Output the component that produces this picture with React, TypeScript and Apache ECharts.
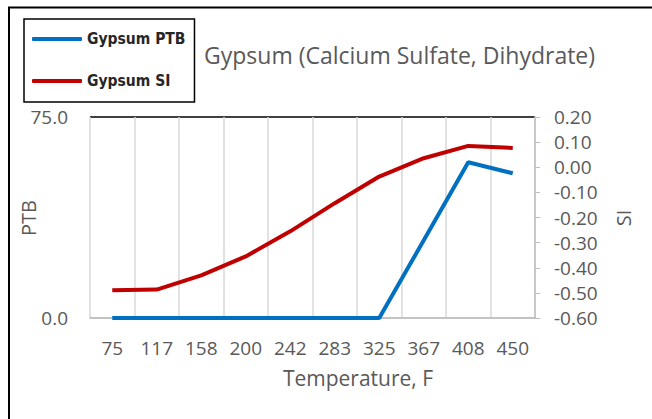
import React, { useEffect, useRef } from "react";
import * as echarts from "echarts";

const categories = ["75", "117", "158", "200", "242", "283", "325", "367", "408", "450"];
const ptbValues = [0, 0, 0, 0, 0, 0, 0, 29, 58.1, 54.0];
const siValues = [-0.49, -0.487, -0.43, -0.355, -0.255, -0.143, -0.037, 0.036, 0.085, 0.077];
const ptbTicks = { min: 0, max: 75, interval: 75 };
const siTicks = { min: -0.6, max: 0.2, interval: 0.1 };

const FONT = "'Open Sans', 'Noto Sans', sans-serif";
const GREY = "#595959";

export default function App() {
  const ref = useRef<HTMLDivElement>(null);
  useEffect(() => {
    if (!ref.current) return;
    const chart = echarts.init(ref.current, undefined, { renderer: "svg" });
    chart.setOption({
      animation: false,
      backgroundColor: "#ffffff",
      textStyle: { fontFamily: FONT },
      title: {
        text: "Gypsum (Calcium Sulfate, Dihydrate)",
        left: 199,
        top: 38,
        textStyle: { fontFamily: FONT, fontSize: 23, fontWeight: "normal", color: GREY },
      },
      legend: {
        orient: "vertical",
        left: 24,
        top: 19,
        padding: [10, 9, 11, 8],
        itemGap: 22,
        itemWidth: 50,
        itemHeight: 4,
        icon: "roundRect",
        borderColor: "#000000",
        borderWidth: 1.5,
        textStyle: {
          fontFamily: "'DejaVu Sans Condensed', 'Liberation Sans Narrow', sans-serif",
          fontWeight: "bold",
          fontSize: 15.5,
          lineHeight: 20,
          color: "#262626",
        },
      },
      grid: {
        left: 90,
        right: 117,
        top: 117,
        bottom: 101,
        containLabel: false,
        outerBoundsMode: "none",
      },
      xAxis: {
        type: "category",
        data: categories,
        boundaryGap: true,
        axisLine: { show: true, lineStyle: { color: "#bfbfbf", width: 1.5 } },
        axisTick: { show: false },
        axisLabel: { margin: 20, fontSize: 19, color: GREY, fontFamily: FONT, interval: 0 },
        splitLine: { show: true, interval: 0, lineStyle: { color: "#d9d9d9", width: 1.5 } },
      },
      yAxis: [
        {
          type: "value",
          position: "left",
          min: ptbTicks.min,
          max: ptbTicks.max,
          interval: ptbTicks.interval,
          axisLine: { show: false },
          axisTick: { show: false },
          axisLabel: {
            margin: 22,
            fontSize: 19,
            color: GREY,
            fontFamily: FONT,
            formatter: (v: number) => v.toFixed(1),
          },
          splitLine: { show: true, lineStyle: { color: ["#bfbfbf", "#000000"], width: 1.5 } },
        },
        {
          type: "value",
          position: "right",
          min: siTicks.min,
          max: siTicks.max,
          interval: siTicks.interval,
          axisLine: { show: true, lineStyle: { color: "#bfbfbf", width: 1.5 } },
          axisTick: { show: true, inside: false, length: 5, lineStyle: { color: "#bfbfbf" } },
          axisLabel: {
            margin: 19,
            fontSize: 19,
            color: GREY,
            fontFamily: FONT,
            formatter: (v: number) => v.toFixed(2),
          },
          splitLine: { show: false },
        },
      ],
      series: [
        {
          name: "Gypsum PTB",
          type: "line",
          yAxisIndex: 0,
          data: ptbValues,
          symbol: "none",
          lineStyle: { color: "#0070c0", width: 4 },
          itemStyle: { color: "#0070c0" },
        },
        {
          name: "Gypsum SI",
          type: "line",
          yAxisIndex: 1,
          data: siValues,
          symbol: "none",
          lineStyle: { color: "#c00000", width: 4 },
          itemStyle: { color: "#c00000" },
        },
      ],
      graphic: [
        {
          type: "line",
          shape: { x1: 8, y1: 7.5, x2: 652, y2: 7.5 },
          style: { stroke: "#000000", lineWidth: 2 },
        },
        {
          type: "line",
          shape: { x1: 9, y1: 7, x2: 9, y2: 419 },
          style: { stroke: "#000000", lineWidth: 2 },
        },
        {
          type: "text",
          x: 358,
          y: 378,
          style: {
            text: "Temperature, F",
            fontFamily: FONT,
            fontSize: 21,
            fill: GREY,
            align: "center",
            verticalAlign: "middle",
          },
        },
        {
          type: "text",
          x: 28,
          y: 218,
          rotation: Math.PI / 2,
          style: {
            text: "PTB",
            fontFamily: FONT,
            fontSize: 20,
            fill: GREY,
            align: "center",
            verticalAlign: "middle",
          },
        },
        {
          type: "text",
          x: 623,
          y: 218,
          rotation: Math.PI / 2,
          style: {
            text: "SI",
            fontFamily: FONT,
            fontSize: 20,
            fill: GREY,
            align: "center",
            verticalAlign: "middle",
          },
        },
      ],
    });
    return () => chart.dispose();
  }, []);
  return (
    <div
      ref={ref}
      style={{ position: "fixed", left: 0, top: 0, width: 652, height: 419, background: "#fff" }}
    />
  );
}
